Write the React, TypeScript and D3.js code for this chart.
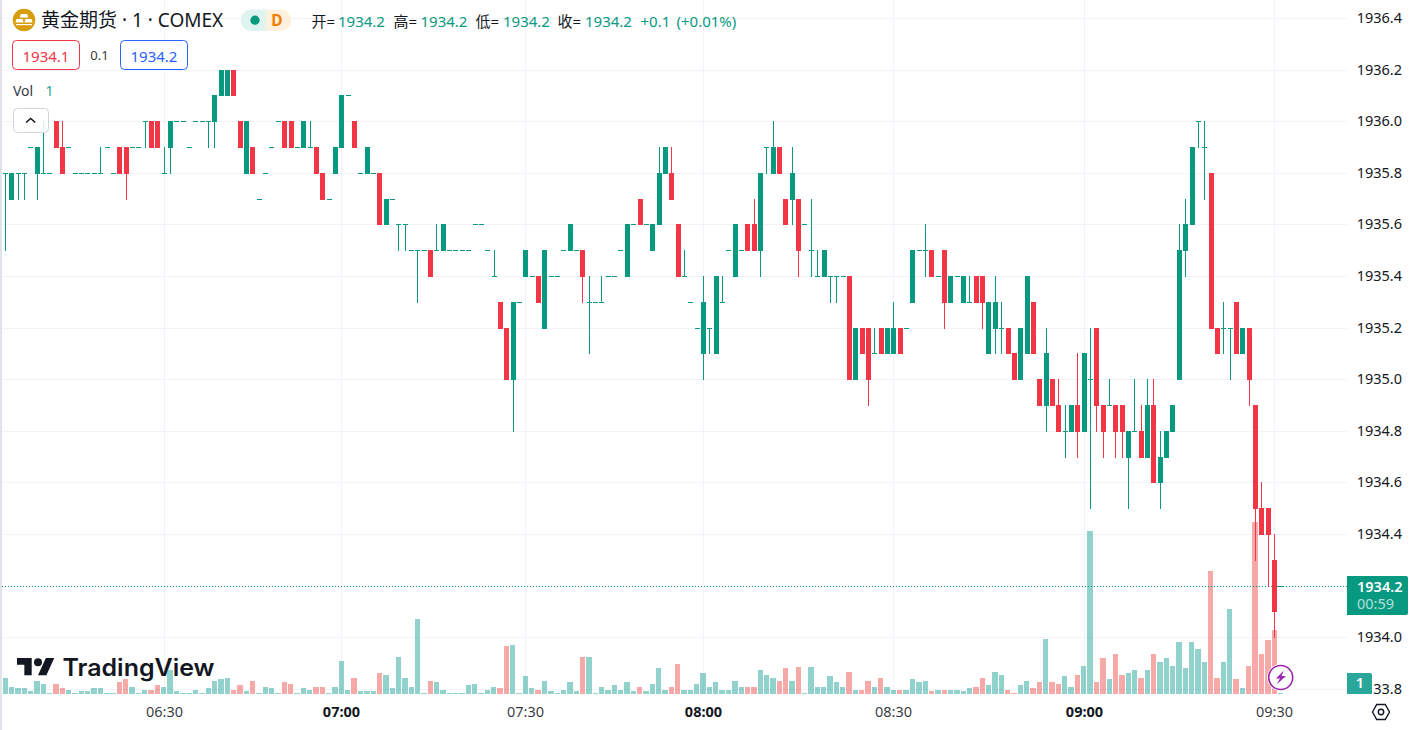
import React from "react";
import * as d3 from "d3";

// prices are stored minus this base, everything moves in 0.1 steps
const PRICE_BASE = 1900;

const opens = [
  35.8,35.7,35.8,35.8,35.9,35.8,35.8,35.8,36.0,35.9,
  35.9,35.8,35.8,35.8,35.8,35.8,35.9,35.8,35.9,35.9,
  35.9,35.9,36.0,36.0,36.0,35.8,35.9,36.0,36.0,35.9,
  36.0,36.0,36.0,36.0,36.1,36.1,36.2,36.0,35.8,35.9,
  35.7,35.8,35.9,36.0,36.0,36.0,35.9,35.9,35.9,35.9,
  35.8,35.7,35.8,35.9,36.1,36.0,35.8,35.8,35.8,35.8,
  35.6,35.7,35.6,35.6,35.5,35.5,35.5,35.5,35.5,35.5,
  35.5,35.5,35.5,35.5,35.6,35.6,35.5,35.4,35.3,35.2,
  35.0,35.3,35.4,35.4,35.4,35.2,35.4,35.4,35.5,35.5,
  35.5,35.5,35.3,35.3,35.3,35.4,35.4,35.5,35.4,35.6,
  35.7,35.6,35.5,35.6,35.8,35.8,35.6,35.4,35.3,35.2,
  35.1,35.2,35.1,35.3,35.5,35.4,35.5,35.6,35.6,35.5,
  35.9,35.8,35.9,35.7,35.7,35.7,35.6,35.5,35.4,35.4,
  35.4,35.4,35.4,35.4,35.0,35.2,35.2,35.1,35.2,35.1,
  35.1,35.2,35.2,35.3,35.5,35.5,35.5,35.4,35.5,35.3,
  35.4,35.3,35.3,35.4,35.4,35.1,35.2,35.2,35.2,35.1,
  35.0,35.1,35.3,35.0,34.9,35.0,34.9,34.8,34.8,34.9,
  34.8,35.0,35.2,34.9,34.9,34.9,34.9,34.7,34.8,34.8,
  34.7,34.9,34.6,34.7,34.8,35.0,35.5,35.6,36.0,35.9,
  35.8,35.2,35.2,35.2,35.3,35.1,35.2,34.9,34.5,34.5,
  34.3,34.2,
];

const closes = [
  35.8,35.8,35.8,35.8,35.9,35.9,35.8,35.8,35.9,35.8,
  35.9,35.8,35.8,35.8,35.8,35.8,35.9,35.8,35.8,35.8,
  35.9,35.9,36.0,35.9,35.9,35.8,36.0,36.0,36.0,35.9,
  36.0,36.0,36.0,36.1,36.2,36.2,36.1,35.9,36.0,35.8,
  35.7,35.8,35.9,36.0,35.9,35.9,35.9,36.0,35.9,35.8,
  35.7,35.7,35.9,36.1,36.1,35.9,35.8,35.9,35.8,35.6,
  35.7,35.7,35.6,35.6,35.5,35.5,35.5,35.4,35.5,35.6,
  35.5,35.5,35.5,35.5,35.6,35.6,35.5,35.4,35.2,35.0,
  35.3,35.3,35.5,35.4,35.3,35.5,35.4,35.4,35.5,35.6,
  35.5,35.4,35.3,35.3,35.3,35.4,35.4,35.5,35.6,35.6,
  35.6,35.6,35.6,35.8,35.9,35.7,35.4,35.4,35.3,35.2,
  35.3,35.2,35.4,35.3,35.5,35.6,35.5,35.5,35.5,35.8,
  35.9,35.9,35.8,35.6,35.8,35.5,35.6,35.5,35.4,35.5,
  35.4,35.4,35.4,35.0,35.2,35.1,35.0,35.1,35.1,35.2,
  35.2,35.1,35.2,35.5,35.5,35.5,35.4,35.4,35.3,35.4,
  35.4,35.4,35.3,35.3,35.3,35.3,35.3,35.2,35.1,35.0,
  35.2,35.4,35.1,34.9,35.1,34.9,34.8,34.8,34.9,34.8,
  35.1,35.0,34.9,34.8,34.9,34.8,34.8,34.8,34.8,34.7,
  34.9,34.6,34.7,34.8,34.9,35.5,35.6,35.9,36.0,35.9,
  35.2,35.1,35.2,35.2,35.1,35.2,35.0,34.5,34.4,34.4,
  34.1,34.2,
];

const highs = [
  35.8,35.8,35.8,35.8,35.9,35.9,36.0,35.8,36.0,36.0,
  35.9,35.8,35.8,35.8,35.8,35.9,35.9,35.8,35.9,35.9,
  35.9,35.9,36.0,36.0,36.0,35.9,36.0,36.0,36.0,35.9,
  36.0,36.0,36.0,36.1,36.2,36.2,36.2,36.0,36.0,35.9,
  35.7,35.8,35.9,36.0,36.0,36.0,35.9,36.0,36.0,35.9,
  35.8,35.7,35.9,36.1,36.1,36.0,35.8,35.9,35.8,35.8,
  35.7,35.7,35.6,35.6,35.5,35.5,35.5,35.5,35.6,35.6,
  35.5,35.5,35.5,35.5,35.6,35.6,35.5,35.5,35.3,35.2,
  35.3,35.3,35.5,35.4,35.4,35.5,35.4,35.4,35.5,35.6,
  35.5,35.5,35.4,35.3,35.4,35.4,35.4,35.5,35.6,35.6,
  35.7,35.6,35.6,35.9,35.9,35.9,35.6,35.5,35.3,35.2,
  35.4,35.2,35.4,35.4,35.5,35.6,35.5,35.6,35.7,35.8,
  35.9,36.0,35.9,35.7,35.9,35.7,35.6,35.7,35.5,35.5,
  35.4,35.4,35.4,35.4,35.2,35.2,35.2,35.2,35.2,35.2,
  35.3,35.2,35.2,35.5,35.5,35.6,35.5,35.4,35.5,35.4,
  35.4,35.4,35.4,35.4,35.4,35.3,35.4,35.3,35.2,35.1,
  35.2,35.4,35.3,35.0,35.2,35.0,35.0,34.9,34.9,35.1,
  35.1,35.2,35.2,34.9,35.0,34.9,34.9,34.8,35.0,34.9,
  35.0,35.0,34.8,34.8,34.9,35.6,35.7,35.9,36.0,36.0,
  35.8,35.2,35.3,35.2,35.3,35.2,35.2,34.9,34.6,34.5,
  34.4,34.2,
];

const lows = [
  35.5,35.7,35.7,35.7,35.9,35.7,35.8,35.8,35.9,35.8,
  35.9,35.8,35.8,35.8,35.8,35.8,35.9,35.8,35.8,35.7,
  35.9,35.9,35.9,35.9,35.9,35.8,35.8,36.0,36.0,35.9,
  36.0,36.0,35.9,35.9,36.1,36.1,36.1,35.9,35.8,35.8,
  35.7,35.8,35.9,36.0,35.9,35.9,35.9,35.9,35.9,35.8,
  35.7,35.7,35.8,35.9,36.1,35.9,35.8,35.8,35.8,35.6,
  35.6,35.7,35.5,35.5,35.5,35.3,35.5,35.4,35.5,35.5,
  35.5,35.5,35.5,35.5,35.6,35.6,35.5,35.4,35.2,35.0,
  34.8,35.3,35.4,35.4,35.3,35.2,35.4,35.4,35.5,35.5,
  35.5,35.3,35.1,35.3,35.3,35.4,35.4,35.5,35.4,35.6,
  35.6,35.6,35.5,35.6,35.8,35.7,35.4,35.4,35.3,35.2,
  35.0,35.1,35.1,35.3,35.5,35.4,35.5,35.5,35.5,35.4,
  35.8,35.8,35.8,35.6,35.6,35.4,35.6,35.4,35.4,35.4,
  35.3,35.3,35.4,35.0,35.0,35.1,34.9,35.1,35.1,35.1,
  35.1,35.1,35.2,35.3,35.5,35.4,35.4,35.4,35.2,35.3,
  35.4,35.3,35.3,35.3,35.2,35.1,35.1,35.1,35.1,35.0,
  35.0,35.1,35.1,34.9,34.8,34.9,34.8,34.7,34.8,34.7,
  34.8,34.5,34.8,34.7,34.9,34.7,34.7,34.5,34.8,34.7,
  34.7,34.6,34.5,34.7,34.8,35.0,35.4,35.6,35.9,35.7,
  35.2,35.1,35.1,35.0,35.1,35.1,34.9,34.3,34.4,34.2,
  34.0,34.2,
];

const volumes = [
  11,5,4,4,2,9,7,1,7,4,
  3,1,2,2,4,4,1,1,8,10,
  5,1,3,3,6,5,16,2,1,1,
  3,1,4,9,10,11,3,6,2,9,
  1,5,4,1,8,7,1,4,3,5,
  5,1,5,22,3,11,2,2,2,14,
  13,4,25,11,5,50,1,9,8,3,
  1,1,1,6,7,1,3,5,4,32,
  33,1,12,4,3,9,2,1,3,8,
  2,25,25,1,5,3,6,3,8,2,
  5,2,7,17,3,5,20,3,3,7,
  14,5,8,3,3,9,5,5,5,16,
  13,11,9,17,9,18,1,18,5,5,
  12,8,5,15,3,3,9,5,11,5,
  3,3,3,10,8,9,2,3,3,3,
  3,2,4,5,11,6,15,13,3,1,
  6,9,4,8,37,8,7,12,5,13,
  19,109,8,24,10,27,13,14,16,11,
  16,27,21,24,19,35,17,35,30,21,
  82,11,21,57,10,4,19,115,27,36,
  43,1,
];

const priceTicks = [1936.4, 1936.2, 1936.0, 1935.8, 1935.6, 1935.4, 1935.2, 1935.0, 1934.8, 1934.6, 1934.4, 1934.2, 1934.0, 1933.8];
// tick labels as they stay readable next to the two tags on the axis
const priceTickLabels = ["1936.4", "1936.2", "1936.0", "1935.8", "1935.6", "1935.4", "1935.2", "1935.0", "1934.8", "1934.6", "1934.4", "", "1934.0", "33.8"];
const timeLabels = ["06:30", "07:00", "07:30", "08:00", "08:30", "09:00", "09:30"];
const timeIndexes = [25, 53, 82, 110, 140, 170, 200];
const timeMajor = [false, true, false, true, false, true, false];

const UP = "#089981";
const DOWN = "#f23645";
const INK = "#131722";
const GRID = "#f0f3fa";
const FONT = "'Noto Sans','Noto Sans CJK SC',sans-serif";

const PANE_LEFT = 2;
const PANE_RIGHT = 1347;

const x = d3.scaleLinear().domain([0, 201]).range([5.5, 5.5 + 6.345 * 201]);
const y = d3.scaleLinear().domain([1936, 1934]).range([121.2, 637.2]);
const volY = d3.scaleLinear().domain([0, 115]).range([694, 521.5]);
const py = (v: number) => Math.round(y(v));

const bars = opens.map((o, i) => ({
  i,
  open: o + PRICE_BASE,
  close: closes[i] + PRICE_BASE,
  high: highs[i] + PRICE_BASE,
  low: lows[i] + PRICE_BASE,
  volume: volumes[i],
}));

const ohlcItems = [
  { label: "开=", lx: 311.5, vx: 338 },
  { label: "高=", lx: 393.5, vx: 420.5 },
  { label: "低=", lx: 475.5, vx: 503 },
  { label: "收=", lx: 557.5, vx: 585 },
];

const App = () => {
  return (
    <svg
      width={1415}
      height={730}
      style={{ position: "fixed", left: 0, top: 0, background: "#fff" }}
      fontFamily={FONT}
    >
      <rect x={0} y={0} width={PANE_LEFT} height={730} fill="#e0e3eb" />

      {/* grid */}
      <g shapeRendering="crispEdges">
        {priceTicks.map((p) => (
          <rect key={p} x={PANE_LEFT} y={py(p)} width={PANE_RIGHT - PANE_LEFT} height={1} fill={GRID} />
        ))}
        {timeIndexes.map((t) => (
          <rect key={t} x={Math.floor(x(t))} y={0} width={1} height={695} fill={GRID} />
        ))}
      </g>

      {/* watermark */}
      <g fill={INK}>
        <path
          transform="translate(17,654) scale(1.05,0.97)"
          d="M14 22H7V11H0V4h14v18zM28 22h-8l7.5-18h8L28 22z"
        />
        <circle cx={38} cy={662.2} r={4} />
        <text x={62.5} y={676} fontFamily="Inter" fontWeight={600} fontSize={24} textLength={152} lengthAdjust="spacingAndGlyphs">
          TradingView
        </text>
      </g>

      {/* volume */}
      <g shapeRendering="crispEdges">
        {bars.map((b) => {
          const left = Math.round(x(b.i) - 3);
          const next = Math.round(x(b.i + 1) - 3);
          const top = Math.round(volY(b.volume));
          return (
            <rect
              key={b.i}
              x={left}
              y={top}
              width={next - left - 1}
              height={694 - top}
              fill={b.close < b.open ? "#ef5350" : "#26a69a"}
              fillOpacity={0.5}
            />
          );
        })}
      </g>

      {/* last price line */}
      <line
        x1={PANE_LEFT}
        x2={PANE_RIGHT}
        y1={py(1934.2) + 0.5}
        y2={py(1934.2) + 0.5}
        stroke={UP}
        strokeWidth={1}
        strokeDasharray="1 2"
      />

      {/* candles */}
      <g shapeRendering="crispEdges">
        {bars.map((b) => {
          const color = b.close < b.open ? DOWN : UP;
          const left = Math.round(x(b.i) - 2.5);
          const top = py(Math.max(b.open, b.close));
          const bottom = py(Math.min(b.open, b.close)) + 1;
          const hi = py(b.high);
          const lo = py(b.low) + 1;
          return (
            <g key={b.i} fill={color}>
              <rect x={left + 2} y={hi} width={1} height={lo - hi} />
              <rect x={left} y={top} width={5} height={bottom - top} />
            </g>
          );
        })}
      </g>

      {/* price axis */}
      <g fontSize={14.5} fill={INK} textAnchor="end">
        {priceTicks.map((p, i) =>
          priceTickLabels[i] ? (
            <text key={p} x={1402} y={py(p) + 5}>
              {priceTickLabels[i]}
            </text>
          ) : null
        )}
      </g>
      <path d="M1347 576H1406a2 2 0 0 1 2 2V613a2 2 0 0 1 -2 2H1347Z" fill={UP} />
      <text x={1357} y={592} fontSize={14.5} fontWeight={600} fill="#fff">
        1934.2
      </text>
      <text x={1357} y={609} fontSize={14.5} fill="#fff" fillOpacity={0.7}>
        00:59
      </text>
      <path d="M1347 673H1370a2 2 0 0 1 2 2V694H1347Z" fill="#2aa79b" />
      <text x={1360} y={688} fontSize={14.5} fontWeight={600} fill="#fff" textAnchor="middle">
        {volumes[volumes.length - 1]}
      </text>

      {/* time axis */}
      <g fontSize={14.5} fill={INK} textAnchor="middle">
        {timeLabels.map((label, i) => (
          <text
            key={label}
            x={Math.floor(x(timeIndexes[i])) + 0.5}
            y={717}
            fontWeight={timeMajor[i] ? 700 : 400}
            fillOpacity={timeMajor[i] ? 1 : 0.88}
          >
            {label}
          </text>
        ))}
      </g>

      {/* settings hexagon */}
      <path
        d="M1372.5 712L1376.7 704.5H1385.3L1389.5 712L1385.3 719.5H1376.7Z"
        fill="none"
        stroke={INK}
        strokeWidth={1.4}
      />
      <circle cx={1381} cy={712} r={2.7} fill="none" stroke={INK} strokeWidth={1.4} />

      {/* replay bolt */}
      <circle cx={1280.7} cy={677.5} r={13.5} fill="#fff" />
      <circle cx={1280.7} cy={677.5} r={12} fill="#fff" stroke="#9c27b0" strokeWidth={1.6} />
      <path d="M1283.8 670.5L1276 678.5H1280L1276.5 684.5L1286 676H1281.5Z" fill="#9c27b0" />

      {/* header */}
      <circle cx={24} cy={20} r={11.3} fill="#d69e0c" />
      <g fill="#fff">
        <path d="M20.8 14H27.2L28.4 17.6H19.6Z" />
        <path d="M16.4 19H22.6L23.6 22.6H15.4Z" />
        <path d="M25.4 19H31.6L32.6 22.6H24.4Z" />
        <rect x={16} y={24} width={16} height={1.2} />
      </g>
      <text x={41} y={27} fontSize={19} fill={INK}>
        黄金期货 · 1 · COMEX
      </text>

      <path d="M266 9.5H251.5a10.75 10.75 0 0 0 0 21.5H266Z" fill="#dff3ef" />
      <path d="M266 9.5H280.5a10.75 10.75 0 0 1 0 21.5H266Z" fill="#fff1dd" />
      <circle cx={255} cy={20.2} r={4.6} fill={UP} />
      <text x={277} y={26} fontSize={15.5} fontWeight={700} fill="#f57c00" textAnchor="middle">
        D
      </text>

      <g fontSize={15}>
        {ohlcItems.map((item) => (
          <g key={item.label}>
            <text x={item.lx} y={27} fill={INK}>
              {item.label}
            </text>
            <text x={item.vx} y={27} fill={UP}>
              1934.2
            </text>
          </g>
        ))}
        <text x={640.5} y={27} fill={UP}>
          +0.1
        </text>
        <text x={676.5} y={27} fill={UP}>
          (+0.01%)
        </text>
      </g>

      <rect x={12.5} y={40.5} width={67} height={29} rx={4} fill="#fff" stroke={DOWN} />
      <text x={46} y={61.5} fontSize={15} fill={DOWN} textAnchor="middle">
        1934.1
      </text>
      <text x={99.5} y={60} fontSize={13} fill="#363a45" textAnchor="middle">
        0.1
      </text>
      <rect x={120.5} y={40.5} width={67} height={29} rx={4} fill="#fff" stroke="#2962ff" />
      <text x={154} y={61.5} fontSize={15} fill="#2962ff" textAnchor="middle">
        1934.2
      </text>

      <text x={13} y={96} fontSize={14} fill="#363a45">
        Vol
      </text>
      <text x={45.5} y={96} fontSize={14} fill="#26a69a">
        1
      </text>

      <rect x={13.5} y={108.5} width={35} height={24} rx={4} fill="#fff" fillOpacity={0.85} stroke="#d1d4dc" />
      <path d="M26 122.5L30.7 118.5L35.3 122.5" fill="none" stroke={INK} strokeWidth={1.6} />
    </svg>
  );
};

export default App;
